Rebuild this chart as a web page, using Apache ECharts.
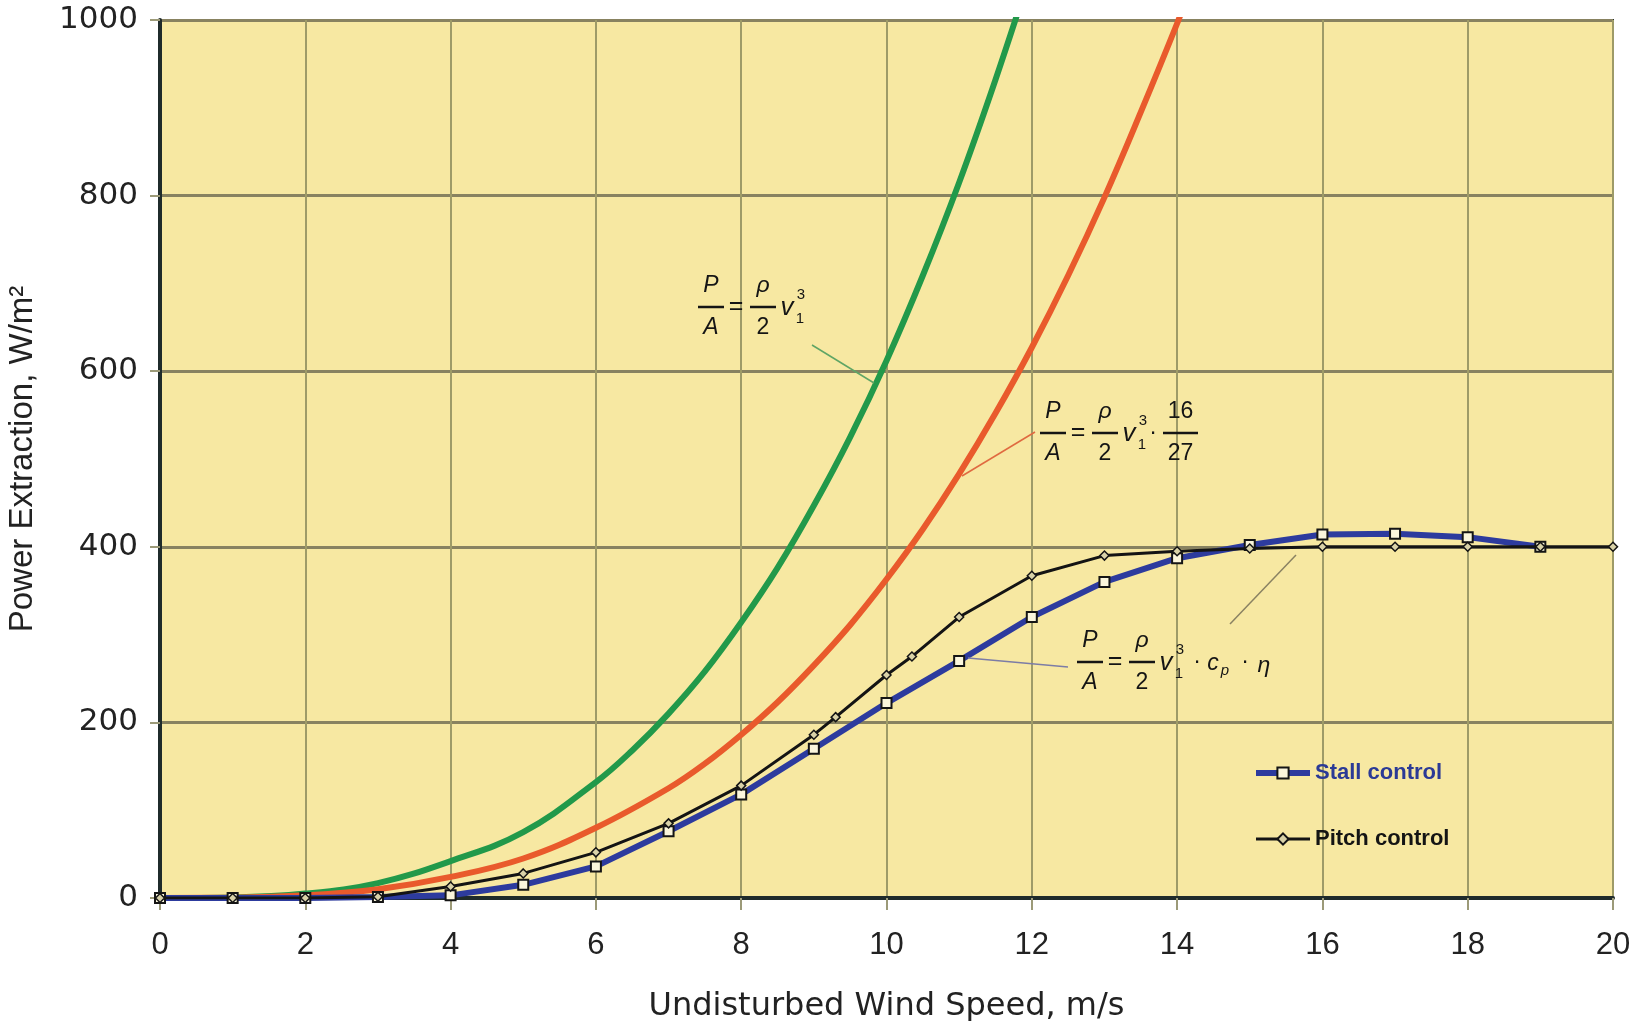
<!DOCTYPE html>
<html>
<head>
<meta charset="utf-8">
<script src="https://cdn.jsdelivr.net/npm/echarts@6/dist/echarts.min.js"></script>
<style>
  html, body { margin: 0; padding: 0; background: #fff; }
  #chart { width: 1639px; height: 1021px; }
</style>
</head>
<body>
<div id="chart"></div>
<script>
// wind speed ticks
const xTicks = [0, 2, 4, 6, 8, 10, 12, 14, 16, 18, 20]
const yTicks = [0, 200, 400, 600, 800, 1000]

// P/A = rho/2 v^3  (green)
const betzFree = [
  [0, 0], [1, 0.6], [2, 5], [3, 17], [4, 42], [5, 75], [6, 132], [6.5, 168],
  [7, 210], [7.5, 258], [8, 314], [8.5, 376], [9, 447], [9.5, 525], [10, 612],
  [10.5, 709], [11, 815], [11.5, 932], [12, 1058]
]
// P/A = rho/2 v^3 * 16/27  (red)
const betzLimit = [
  [0, 0], [1, 0.4], [2, 3], [3, 10], [4, 24], [5, 45], [6, 80], [7, 125],
  [7.5, 153], [8, 186], [8.5, 223], [9, 265], [9.5, 311], [10, 363], [10.5, 420],
  [11, 483], [11.5, 552], [12, 627], [12.5, 709], [13, 798], [13.5, 895],
  [14, 996], [14.2, 1040]
]
// stall control
const stall = [
  [0, 0], [1, 0], [2, 0], [3, 1], [4, 3], [5, 15], [6, 36], [7, 76], [8, 118],
  [9, 170], [10, 222], [11, 270], [12, 320], [13, 360], [14, 387], [15, 402],
  [16, 414], [17, 415], [18, 411], [19, 400]
]
// pitch control
const pitch = [
  [0, 0], [1, 0], [2, 0], [3, 1.5], [4, 13], [5, 28], [6, 52], [7, 85], [8, 128],
  [9, 186], [9.3, 206], [10, 254], [10.35, 275], [11, 320], [12, 367], [13, 390],
  [14, 395], [15, 398], [16, 400], [17, 400], [18, 400], [19, 400], [20, 400]
]

const FF = "'Liberation Sans', Arial, sans-serif"
const FSIZE = 23
const INK = '#151515'

function txt(x, y, s, size, italic) {
  return {
    type: 'text', x: x, y: y, z: 50,
    style: {
      text: s, fill: INK, align: 'center', verticalAlign: 'middle',
      font: (italic ? 'italic ' : '') + size + 'px ' + FF
    }
  }
}
function bar(x1, x2, y) {
  return { type: 'line', z: 50, shape: { x1: x1, y1: y, x2: x2, y2: y }, style: { stroke: INK, lineWidth: 2.5 } }
}
function frac(x1, x2, y, num, den, italicNum, italicDen) {
  const cx = (x1 + x2) / 2
  return [bar(x1, x2, y), txt(cx, y - 21, num, FSIZE, italicNum), txt(cx, y + 21, den, FSIZE, italicDen)]
}
// P/A = rho/2 v1^3 ...
function formulaBase(x0, y) {
  return [].concat(
    frac(x0, x0 + 26, y, 'P', 'A', true, true),
    [txt(x0 + 38, y, '=', FSIZE + 2, false)],
    frac(x0 + 52, x0 + 78, y, 'ρ', '2', true, false),
    [txt(x0 + 89, y + 1, 'v', FSIZE + 3, true),
     txt(x0 + 103, y - 12, '3', 15, false),
     txt(x0 + 102, y + 12, '1', 15, false)]
  )
}
function leader(x1, y1, x2, y2, color) {
  return { type: 'line', z: 40, shape: { x1: x1, y1: y1, x2: x2, y2: y2 }, style: { stroke: color, lineWidth: 1.5 } }
}

const f1 = formulaBase(698, 307)
const f2 = formulaBase(1040, 433).concat(
  [txt(1153, 433, '·', FSIZE, false)],
  frac(1163, 1198, 433, '16', '27', false, false)
)
const f3 = formulaBase(1077, 662).concat([
  txt(1197, 662, '·', FSIZE, false),
  txt(1213, 664, 'c', FSIZE, true),
  txt(1225, 671, 'p', 15, true),
  txt(1245, 662, '·', FSIZE, false),
  txt(1264, 666, 'η', FSIZE, true)
])
const leaders = [
  leader(812, 345, 874, 383, '#5fa565'),
  leader(1035, 432, 962, 476, '#e06a40'),
  leader(968, 658, 1068, 667, '#7c7ca6'),
  leader(1230, 624, 1296, 555, '#8a8262')
]

const chart = echarts.init(document.getElementById('chart'))
chart.setOption({
  backgroundColor: '#fff',
  animation: false,
  grid: {
    left: 160, right: 26, top: 20, bottom: 123,
    show: true, backgroundColor: '#f7e8a2', borderColor: '#2a3434', borderWidth: 2,
    containLabel: false, outerBoundsMode: 'none'
  },
  legend: {
    orient: 'vertical', left: 1248, top: 757, itemGap: 44,
    itemWidth: 54, itemHeight: 14,
    textStyle: { fontFamily: FF, fontSize: 22, fontWeight: 'bold' },
    data: [
      { name: 'Stall control', textStyle: { color: '#2b3a96' }, lineStyle: { width: 6 } },
      { name: 'Pitch control', textStyle: { color: '#141414' }, lineStyle: { width: 3 } }
    ]
  },
  xAxis: {
    type: 'value', min: 0, max: 20, interval: 2,
    name: 'Undisturbed Wind Speed, m/s', nameLocation: 'middle', nameGap: 93,
    nameMoveOverlap: false,
    nameTextStyle: { fontFamily: "'DejaVu Sans', sans-serif", fontSize: 32, color: '#222' },
    axisLine: { show: true, lineStyle: { color: '#1f2b2b', width: 4 } },
    axisTick: { show: true, length: 12, lineStyle: { color: '#9c9a78', width: 2 } },
    axisLabel: {
      margin: 32, fontFamily: FF, fontSize: 31, color: '#222',
      customValues: xTicks
    },
    splitLine: { show: true, lineStyle: { color: '#9e9b68', width: 2 } }
  },
  yAxis: {
    type: 'value', min: 0, max: 1000, interval: 200,
    name: 'Power Extraction, W/m²', nameLocation: 'middle', nameGap: 121,
    nameMoveOverlap: false,
    nameTextStyle: { fontFamily: FF, fontSize: 33, color: '#222' },
    axisLine: { show: true, lineStyle: { color: '#1f2b2b', width: 4 } },
    axisTick: { show: true, length: 10, lineStyle: { color: '#9c9a78', width: 2 } },
    axisLabel: {
      margin: 22, fontFamily: "'DejaVu Sans', sans-serif", fontSize: 31, color: '#222',
      customValues: yTicks,
      formatter: function (v) { return String(v) }
    },
    splitLine: { show: true, lineStyle: { color: '#888260', width: 3 } }
  },
  series: [
    {
      name: 'ideal', type: 'line', data: betzFree, smooth: 0.4, showSymbol: false,
      lineStyle: { color: '#22994a', width: 6 }, z: 3
    },
    {
      name: 'betz', type: 'line', data: betzLimit, smooth: 0.4, showSymbol: false,
      lineStyle: { color: '#e95a2c', width: 6 }, z: 3
    },
    {
      name: 'Stall control', type: 'line', data: stall, symbol: 'rect', symbolSize: 10,
      lineStyle: { color: '#2d3b9e', width: 6 },
      itemStyle: { color: '#fbf6dc', borderColor: '#151515', borderWidth: 2 }, z: 4
    },
    {
      name: 'Pitch control', type: 'line', data: pitch, symbol: 'diamond', symbolSize: 9,
      lineStyle: { color: '#141414', width: 3 },
      itemStyle: { color: '#d9d2a8', borderColor: '#141414', borderWidth: 1.5 }, z: 5
    }
  ],
  graphic: [].concat(leaders, f1, f2, f3)
})
</script>
</body>
</html>
